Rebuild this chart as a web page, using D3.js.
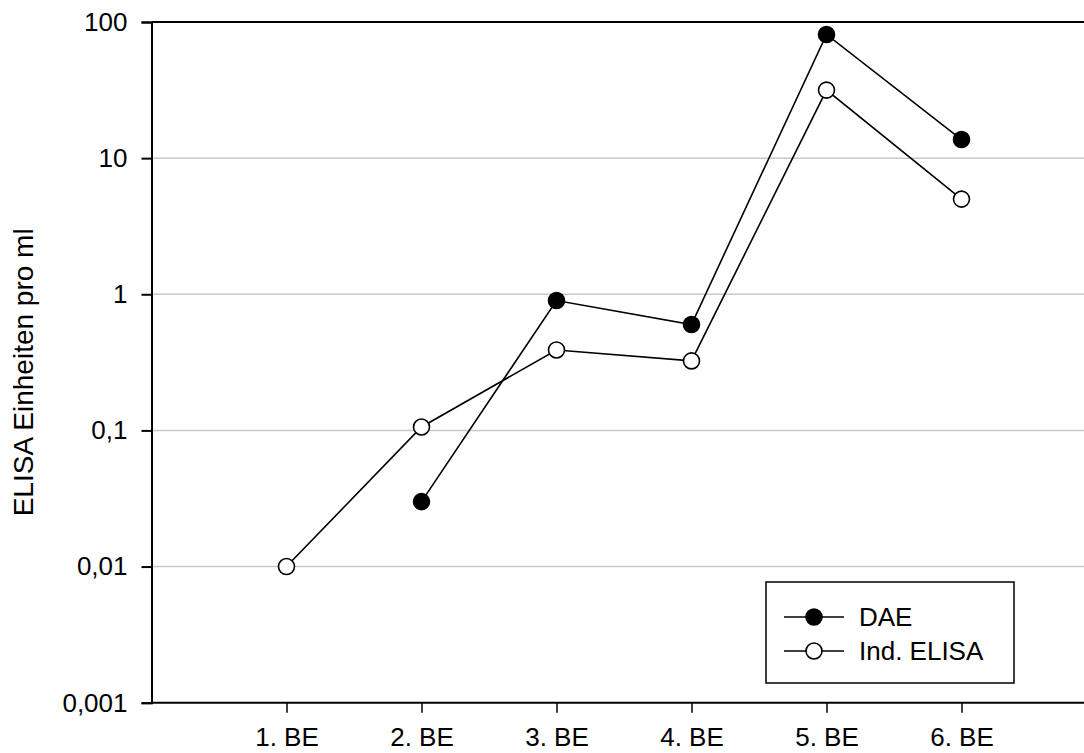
<!DOCTYPE html>
<html>
<head>
<meta charset="utf-8">
<script src="https://cdn.jsdelivr.net/npm/d3@7"></script>
<style>
  html, body { margin: 0; padding: 0; background: #fff; }
  svg { display: block; font-family: "Liberation Sans", Arial, sans-serif; }
</style>
</head>
<body>
<svg id="chart" width="1084" height="753"></svg>
<script>
// Sampling points (Blutentnahmen)
const categories = ["1. BE", "2. BE", "3. BE", "4. BE", "5. BE", "6. BE"];
// ELISA units per ml; null = no measurement
const daeValues = [null, 0.03, 0.9, 0.6, 81, 13.7];
const indElisaValues = [0.01, 0.106, 0.39, 0.324, 31.6, 5.0];
const yTickValues = [0.001, 0.01, 0.1, 1, 10, 100];
const yTickLabels = ["0,001", "0,01", "0,1", "1", "10", "100"];
const seriesNames = ["DAE", "Ind. ELISA"];

const svg = d3.select("#chart");
const plotLeft = 151.5, plotTop = 22, plotBottom = 702.7, catStep = 135, plotRight = 1084;

const x = d3.scaleLinear().domain([0, categories.length + 1]).range([plotLeft, plotLeft + catStep * (categories.length + 1)]);
const y = d3.scaleLog().domain([0.001, 100]).range([plotBottom, plotTop]);

// horizontal grid lines
svg.append("g").selectAll("line")
  .data(yTickValues.filter(v => v > 0.001 && v < 100))
  .join("line")
  .attr("x1", plotLeft).attr("x2", plotRight)
  .attr("y1", d => y(d)).attr("y2", d => y(d))
  .attr("stroke", "#c8c8c8").attr("stroke-width", 1.5);

// top frame line
svg.append("line")
  .attr("x1", plotLeft).attr("x2", plotRight)
  .attr("y1", y(100)).attr("y2", y(100))
  .attr("stroke", "#000").attr("stroke-width", 2);

// y axis
const yAxis = d3.axisLeft(y)
  .tickValues(yTickValues)
  .tickFormat((d, i) => yTickLabels[i])
  .tickSizeOuter(0).tickSize(10).tickPadding(14);
const gy = svg.append("g").attr("transform", `translate(${plotLeft},0)`).call(yAxis);
gy.select(".domain").attr("stroke-width", 2);
gy.selectAll(".tick line").attr("stroke-width", 2);
gy.selectAll(".tick text").attr("font-size", 26).attr("fill", "#000")
  .attr("font-family", "Liberation Sans, Arial, sans-serif");

// x axis
const xAxis = d3.axisBottom(x)
  .tickValues(categories.map((c, i) => i + 1))
  .tickFormat((d) => categories[d - 1])
  .tickSizeOuter(0).tickSize(10).tickPadding(15);
const gx = svg.append("g").attr("transform", `translate(0,${plotBottom})`).call(xAxis);
gx.select(".domain").attr("d", `M${plotLeft},0H${plotRight}`).attr("stroke-width", 2);
gx.selectAll(".tick line").attr("stroke-width", 1.5);
gx.selectAll(".tick text").attr("font-size", 26).attr("fill", "#000")
  .attr("font-family", "Liberation Sans, Arial, sans-serif");

// y axis title
svg.append("text")
  .attr("transform", `translate(33,${(plotTop + plotBottom) / 2 + 10}) rotate(-90)`)
  .attr("text-anchor", "middle")
  .attr("font-size", 28)
  .text("ELISA Einheiten pro ml");

// series
const series = [
  { name: seriesNames[0], values: daeValues, fill: "#000" },
  { name: seriesNames[1], values: indElisaValues, fill: "#fff" }
];
const line = d3.line()
  .defined(d => d.v != null)
  .x(d => x(d.i + 1))
  .y(d => y(d.v));

series.forEach(s => {
  const pts = s.values.map((v, i) => ({ i, v }));
  svg.append("path")
    .datum(pts)
    .attr("d", line)
    .attr("fill", "none")
    .attr("stroke", "#000")
    .attr("stroke-width", 1.6);
  svg.append("g").selectAll("circle")
    .data(pts.filter(d => d.v != null))
    .join("circle")
    .attr("cx", d => x(d.i + 1))
    .attr("cy", d => y(d.v))
    .attr("r", 8)
    .attr("fill", s.fill)
    .attr("stroke", "#000")
    .attr("stroke-width", 1.6);
});

// legend
const legend = svg.append("g");
legend.append("rect")
  .attr("x", 766).attr("y", 582).attr("width", 248).attr("height", 101)
  .attr("fill", "#fff").attr("stroke", "#000").attr("stroke-width", 1.5);
series.forEach((s, k) => {
  const cy = 617 + k * 34;
  legend.append("line")
    .attr("x1", 784).attr("x2", 844).attr("y1", cy).attr("y2", cy)
    .attr("stroke", "#000").attr("stroke-width", 1.6);
  legend.append("circle")
    .attr("cx", 814).attr("cy", cy).attr("r", 8)
    .attr("fill", s.fill).attr("stroke", "#000").attr("stroke-width", 1.6);
  legend.append("text")
    .attr("x", 859).attr("y", cy + 9)
    .attr("font-size", 26)
    .text(s.name);
});
</script>
</body>
</html>
